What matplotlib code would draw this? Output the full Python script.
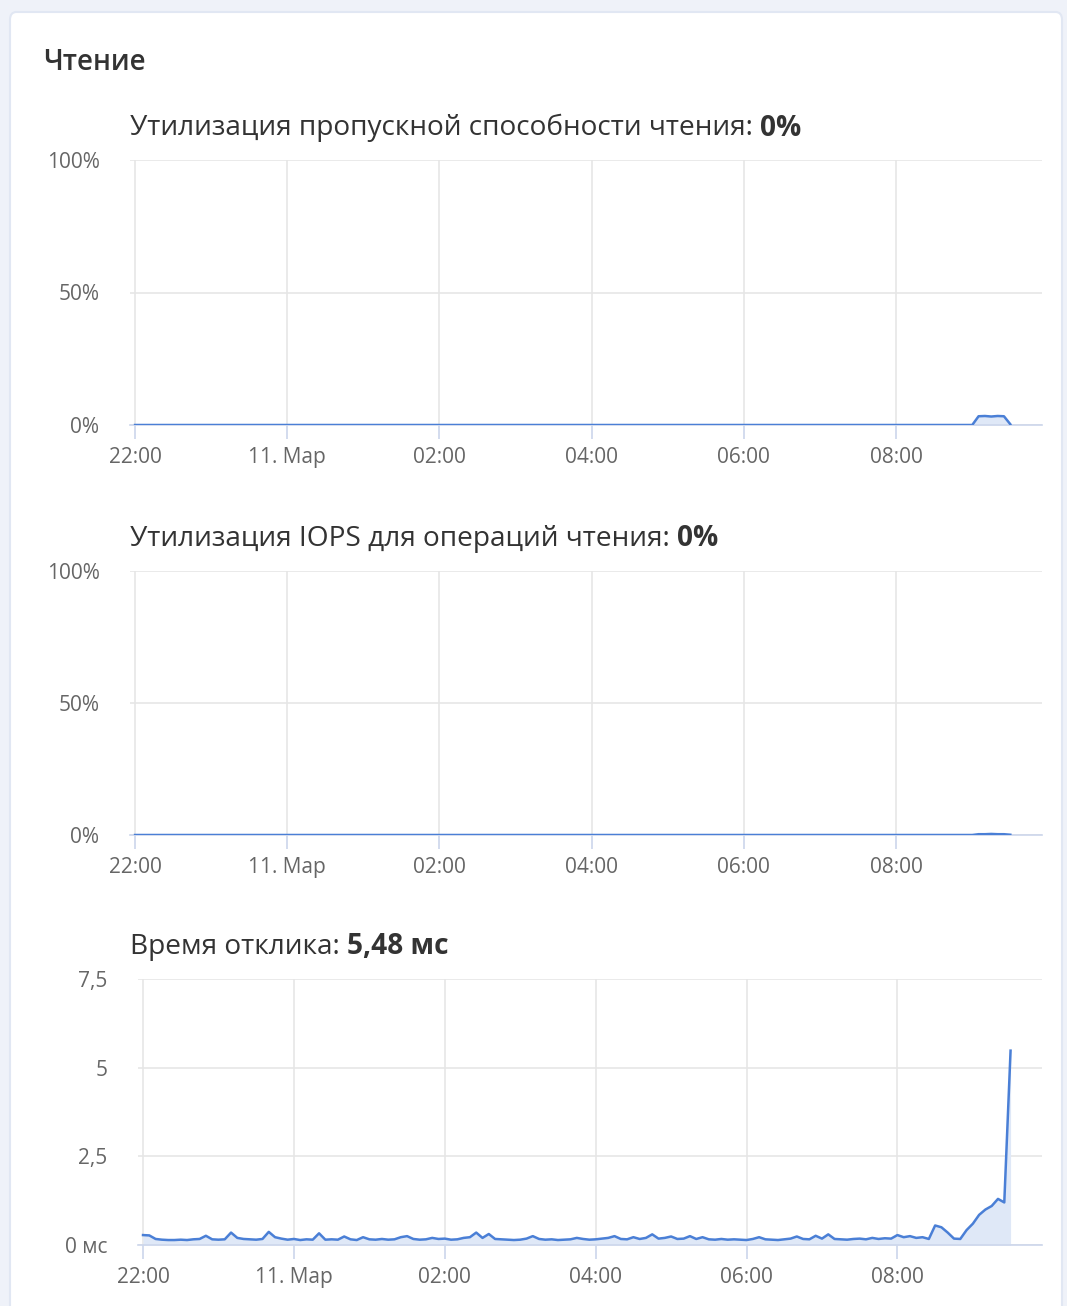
import matplotlib.pyplot as plt
import matplotlib.dates as mdates
from matplotlib.patches import FancyBboxPatch
import numpy as np
import pandas as pd

plt.rcParams['font.family'] = ['Open Sans', 'DejaVu Sans']

# 5-minute samples from 22:00 (10 Mar) to 09:30 (11 Mar)
times = pd.date_range('2024-03-10 22:00', '2024-03-11 09:30', freq='5min')

bw_util = [0.0] * 133 + [3.3, 3.4, 3.2, 3.4, 3.3, 0.3]
iops_util = [0.0] * 133 + [0.3, 0.3, 0.4, 0.3, 0.3, 0.1]
latency = [
    0.28, 0.27, 0.17, 0.15, 0.14, 0.14, 0.15, 0.14, 0.16, 0.17,
    0.26, 0.16, 0.15, 0.16, 0.35, 0.20, 0.17, 0.16, 0.15, 0.17,
    0.37, 0.22, 0.18, 0.15, 0.17, 0.14, 0.16, 0.15, 0.33, 0.15,
    0.16, 0.15, 0.24, 0.16, 0.14, 0.22, 0.16, 0.15, 0.17, 0.15,
    0.16, 0.22, 0.25, 0.17, 0.15, 0.16, 0.20, 0.17, 0.18, 0.15,
    0.16, 0.20, 0.22, 0.35, 0.20, 0.31, 0.17, 0.16, 0.15, 0.14,
    0.15, 0.18, 0.25, 0.17, 0.15, 0.16, 0.14, 0.15, 0.16, 0.20,
    0.17, 0.15, 0.16, 0.18, 0.20, 0.25, 0.17, 0.16, 0.22, 0.17,
    0.20, 0.30, 0.18, 0.20, 0.24, 0.17, 0.18, 0.25, 0.17, 0.22,
    0.16, 0.15, 0.17, 0.15, 0.16, 0.15, 0.14, 0.17, 0.22, 0.16,
    0.15, 0.14, 0.16, 0.18, 0.24, 0.17, 0.16, 0.26, 0.18, 0.30,
    0.17, 0.16, 0.15, 0.17, 0.18, 0.16, 0.20, 0.17, 0.19, 0.18,
    0.28, 0.22, 0.25, 0.20, 0.22, 0.17, 0.55, 0.50, 0.35, 0.18,
    0.17, 0.42, 0.60, 0.85, 1.00, 1.10, 1.30, 1.20, 5.48,
]

tick_times = pd.to_datetime(['2024-03-10 22:00', '2024-03-11 00:00', '2024-03-11 02:00',
                             '2024-03-11 04:00', '2024-03-11 06:00', '2024-03-11 08:00'])
tick_labels = ['22:00', '11. Мар', '02:00', '04:00', '06:00', '08:00']

titles = [
    ('Утилизация пропускной способности чтения: ', '0%'),
    ('Утилизация IOPS для операций чтения: ', '0%'),
    ('Время отклика: ', '5,48 мс'),
]

line_color = '#4a7fd6'
fill_color = '#dfe8f7'
grid_color = '#e6e6e6'
tick_color = '#ccd6eb'
text_color = '#666666'

W, H = 1067, 1306
fig = plt.figure(figsize=(W / 100, H / 100), dpi=100)
fig.patch.set_facecolor('#eff2f9')

card = FancyBboxPatch((10 / W, -0.05), 1052 / W, 1 - 12 / H + 0.05,
                      boxstyle='round,pad=0,rounding_size=0.006',
                      transform=fig.transFigure, facecolor='white',
                      edgecolor='#e1e7f3', linewidth=1.5, zorder=-5)
fig.patches.append(card)

fig.text(43 / W, 1 - 62 / H, 'Чтение', fontsize=20, fontweight='semibold',
         color='#333333', va='center', ha='left')

# (left px, top px, bottom px)
boxes = [(130, 160, 425), (130, 571, 835), (138, 979, 1245)]
right_px = 1042
xlim = (pd.Timestamp('2024-03-10 21:56'), pd.Timestamp('2024-03-11 09:55'))

series = [bw_util, iops_util, latency]
for k, (l, t, b) in enumerate(boxes):
    ax = fig.add_axes([l / W, 1 - b / H, (right_px - l) / W, (b - t) / H])
    ax.set_facecolor('none')
    y = series[k]
    ax.fill_between(times, y, 0, color=fill_color, lw=0, zorder=2)
    ax.plot(times, y, color=line_color, lw=1.8, zorder=3)
    ax.set_xlim(xlim)

    if k < 2:
        ax.set_ylim(0, 100)
        ax.set_yticks([0, 50, 100])
        ax.set_yticklabels(['0%', '50%', '100%'])
    else:
        ax.set_ylim(0, 7.5)
        ax.set_yticks([0, 2.5, 5, 7.5])
        ax.set_yticklabels(['0 мс', '2,5', '5', '7,5'])

    ax.set_xticks(tick_times)
    ax.set_xticklabels(tick_labels)
    ax.grid(True, color=grid_color, lw=1.2, zorder=0)
    ax.set_axisbelow(True)
    for s in ['top', 'right', 'left']:
        ax.spines[s].set_visible(False)
    ax.spines['bottom'].set_color(tick_color)
    ax.spines['bottom'].set_linewidth(1.2)
    ax.tick_params(axis='x', length=10, width=1.2, color=tick_color,
                   labelsize=15, labelcolor=text_color, pad=6)
    ax.tick_params(axis='y', length=0, labelsize=15, labelcolor=text_color, pad=22)

    # title: normal part + bold value
    ty = 1 - (t - 32) / H
    txt = fig.text(130 / W, ty, titles[k][0], fontsize=20.2, color='#333333',
                   va='center', ha='left')
    fig.canvas.draw()
    bb = txt.get_window_extent()
    fig.text(bb.x1 / W, ty, titles[k][1], fontsize=20.2, fontweight='bold',
             color='#333333', va='center', ha='left')

fig.savefig('out.png', dpi=100, facecolor=fig.get_facecolor())
